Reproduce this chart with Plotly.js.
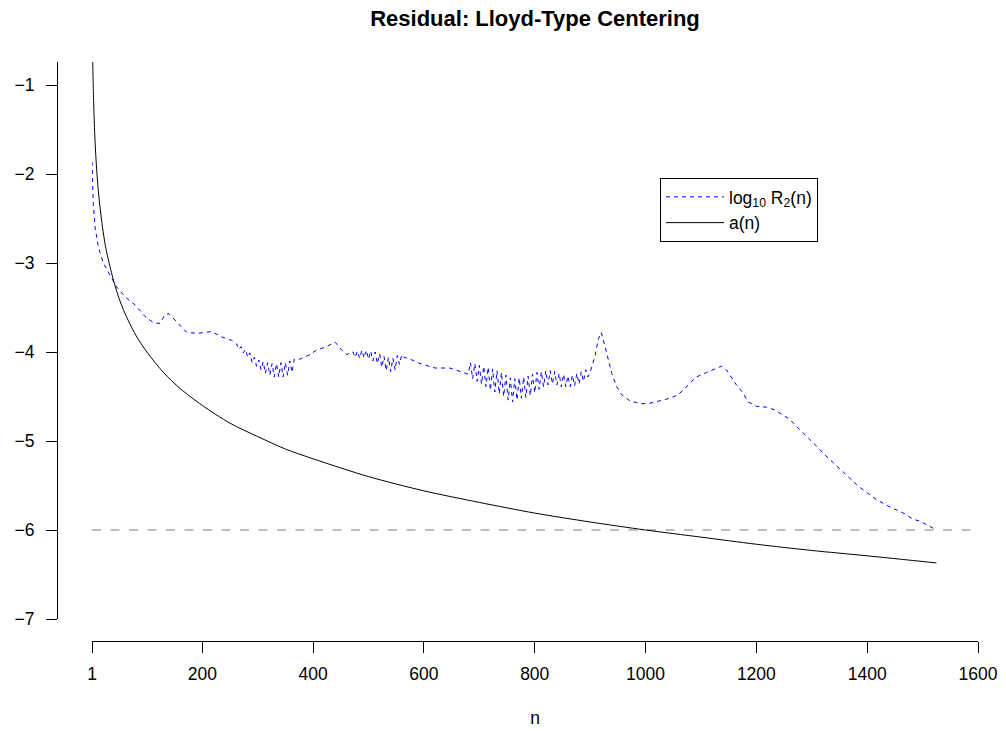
<!DOCTYPE html>
<html><head><meta charset="utf-8">
<script src="https://cdn.plot.ly/plotly-3.0.1.min.js"></script>
<style>html,body{margin:0;padding:0;background:#fff}</style>
</head><body><div id="chart" style="width:1006px;height:731px"></div>
<script>
// log10 R2(n) (blue dashed)
const nR2 = [1,2,3.3,6.4,12.4,21.4,33.5,45.6,60.6,78.6,96.6,111.6,123.7,132.7,140,156.7,171.9,192.8,217,235,253,
 262,266,270,274,278,282,286,290,294,298,302,306,310,314,318,322,326,330,334,338,342,346,350,354,358,362,366,
 376,394,406,424,440,452,461,468,
 472,476,480,484,488,492,496,500,504,508,512,516,520,524,528,532,536,540,544,548,552,556,560,564,
 575,593,620,647,665,680,
 684,688,692,696,700,704,708,712,716,720,724,728,732,736,740,744,748,752,756,760,764,768,772,776,780,784,788,792,796,800,
 804,808,812,816,820,824,828,832,836,840,844,848,852,856,860,864,868,872,876,880,884,888,892,896,
 900,909,915,920,927,933,939,948,957,972,990,1005,1020,1038,1056,1068,1080,1092,1110,1125,1137,1146,1155,1164,1176,1185,
 1200,1218,1233,1249,1261,1273,1285,1297,1309,1321,1333,1345,1357,1369,1381,1393,1405,1417,1432,1447,1459,1471,1483,1495,1507,1519,1522];
const logR2 = [-1.865,-2.10,-2.33,-2.59,-2.82,-3.00,-3.13,-3.27,-3.38,-3.47,-3.60,-3.67,-3.68,-3.58,-3.57,-3.68,-3.78,-3.79,-3.77,-3.83,-3.87,
 -3.91,-3.97,-3.94,-4.01,-3.97,-4.06,-4.01,-4.12,-4.06,-4.16,-4.09,-4.20,-4.11,-4.24,-4.12,-4.26,-4.13,-4.28,-4.13,-4.28,-4.12,-4.28,-4.12,-4.26,-4.10,-4.23,-4.08,
 -4.08,-4.03,-3.98,-3.94,-3.89,-3.98,-4.03,-4.00,
 -4.00,-4.06,-3.99,-4.07,-3.98,-4.07,-3.98,-4.08,-3.99,-4.10,-4.00,-4.13,-4.02,-4.17,-4.05,-4.21,-4.06,-4.22,-4.07,-4.20,-4.04,-4.14,-4.03,-4.06,
 -4.08,-4.13,-4.18,-4.18,-4.22,-4.25,
 -4.12,-4.30,-4.13,-4.33,-4.15,-4.36,-4.16,-4.39,-4.17,-4.43,-4.19,-4.45,-4.21,-4.47,-4.23,-4.50,-4.26,-4.54,-4.29,-4.56,-4.30,-4.54,-4.29,-4.52,-4.28,-4.51,-4.27,-4.49,-4.25,-4.46,
 -4.23,-4.42,-4.22,-4.39,-4.21,-4.37,-4.21,-4.36,-4.22,-4.37,-4.24,-4.39,-4.25,-4.39,-4.27,-4.39,-4.26,-4.38,-4.24,-4.36,-4.22,-4.33,-4.20,-4.28,
 -4.23,-4.04,-3.85,-3.78,-3.94,-4.09,-4.24,-4.39,-4.48,-4.55,-4.58,-4.58,-4.56,-4.53,-4.49,-4.43,-4.35,-4.28,-4.23,-4.19,-4.16,-4.20,-4.28,-4.37,-4.46,-4.56,
 -4.61,-4.62,-4.65,-4.71,-4.76,-4.84,-4.91,-4.99,-5.06,-5.14,-5.21,-5.29,-5.36,-5.43,-5.49,-5.55,-5.61,-5.66,-5.71,-5.76,-5.79,-5.83,-5.88,-5.90,-5.94,-5.98,-5.99];
// a(n) (black solid)
const nA = [1,1.5,2,2.5,3,4,5,6,8,10,12,15,20,25,30,40,50,60,80,100,130,160,200,250,300,350,400,500,600,700,800,900,1000,1100,1200,1300,1400,1525];
const aN = [0,-0.35,-0.60,-0.80,-0.95,-1.20,-1.40,-1.56,-1.81,-2.00,-2.16,-2.35,-2.60,-2.80,-2.95,-3.20,-3.40,-3.56,-3.81,-4.00,-4.23,-4.41,-4.60,-4.80,-4.95,-5.09,-5.20,-5.40,-5.56,-5.69,-5.81,-5.91,-6.00,-6.08,-6.16,-6.23,-6.29,-6.37];
// reference level (grey dashed)
const refX = [1, 1600];
const refLevel = -6;
const xTicks = [1,200,400,600,800,1000,1200,1400,1600];
const xTickText = ['1','200','400','600','800','1000','1200','1400','1600'];
const yTicks = [-1,-2,-3,-4,-5,-6,-7];
const yTickText = ['\u22121','\u22122','\u22123','\u22124','\u22125','\u22126','\u22127'];

const W = 1006, H = 731;
const mL = 57, mR = 28, mT = 62, mB = 90;
const pw = W - mL - mR, ph = H - mT - mB;

const traces = [
  {x: refX, y: refX.map(() => refLevel), type:'scatter', mode:'lines', showlegend:false, hoverinfo:'skip',
   line:{color:'#bebebe', width:2, dash:'9px,9.5px'}},
  {x: nR2, y: logR2, type:'scatter', mode:'lines', name:'log<sub>10</sub> R<sub>2</sub>(n)',
   line:{color:'#0000ff', width:1, dash:'4px,4px'}},
  {x: nA, y: aN, type:'scatter', mode:'lines', name:'a(n)',
   line:{color:'#000000', width:1, shape:'spline', smoothing:0.8}}
];

const layout = {
  width: W, height: H,
  margin:{l:mL, r:mR, t:mT, b:mB, pad:0},
  paper_bgcolor:'#fff', plot_bgcolor:'#fff',
  font:{family:'Liberation Sans, Arial, Helvetica, sans-serif', size:17.5, color:'#000'},
  title:{text:'<b>Residual: Lloyd-Type Centering</b>', font:{size:22, color:'#000'},
         xref:'paper', x:(535-mL)/pw, xanchor:'center', yref:'container', y:1-18/H, yanchor:'middle'},
  xaxis:{domain:[35/pw, 1], range:[1,1600], anchor:'free', position:0,
         showline:true, linecolor:'#000', linewidth:1, showgrid:false, zeroline:false,
         ticks:'outside', ticklen:11, tickwidth:1, tickcolor:'#000',
         tickvals:xTicks, ticktext:xTickText, ticklabelstandoff:6,
         title:{text:'n', standoff:28, font:{size:17.5}}},
  yaxis:{domain:[22/ph, 1], range:[-7, -7 + (619-62)/89], anchor:'free', position:0,
         showline:true, linecolor:'#000', linewidth:1, showgrid:false, zeroline:false,
         ticks:'outside', ticklen:11, tickwidth:1, tickcolor:'#000',
         tickvals:yTicks, ticktext:yTickText, ticklabelstandoff:8},
  legend:{x:(660-mL)/pw, y:(641-178)/ph, xanchor:'left', yanchor:'top', itemwidth:58,
          bordercolor:'#000', borderwidth:1, bgcolor:'#fff', font:{size:17.5}},
  showlegend:true
};

Plotly.newPlot('chart', traces, layout, {staticPlot:true, displayModeBar:false});
</script>
</body></html>
